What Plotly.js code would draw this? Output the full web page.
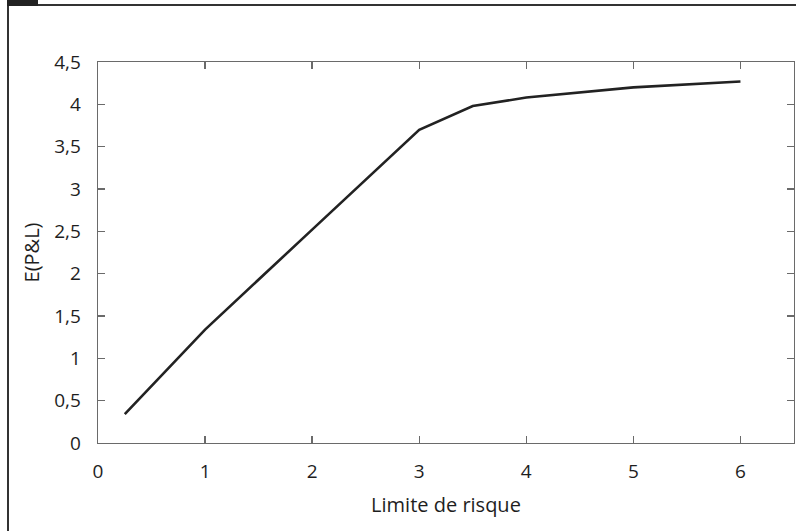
<!DOCTYPE html>
<html>
<head>
<meta charset="utf-8">
<script src="https://cdn.plot.ly/plotly-3.0.1.min.js"></script>
<style>
  html, body { margin: 0; padding: 0; background: #fff; }
  #wrap { position: relative; width: 798px; height: 531px; overflow: hidden; }
  #chart { position: absolute; left: 0; top: 0; width: 798px; height: 531px; }
  .frame-top { position: absolute; left: 7px; top: 4px; width: 789px; height: 2px; background: #333; }
  .frame-left { position: absolute; left: 7px; top: 4px; width: 1.5px; height: 527px; background: #333; }
  .tab { position: absolute; left: 7px; top: 0; width: 31px; height: 6px; background: #222; }
</style>
</head>
<body>
<div id="wrap">
  <div id="chart"></div>
  <div class="frame-top"></div>
  <div class="frame-left"></div>
  <div class="tab"></div>
</div>
<script>
// Data
const riskLimit = [0.25, 1, 2, 3, 3.5, 4, 5, 6];
const expectedPnL = [0.34, 1.34, 2.52, 3.70, 3.98, 4.08, 4.20, 4.27];

const xTickVals = [0, 1, 2, 3, 4, 5, 6];
const xTickText = ['0', '1', '2', '3', '4', '5', '6'];
const yTickVals = [0, 0.5, 1, 1.5, 2, 2.5, 3, 3.5, 4, 4.5];
const yTickText = ['0', '0,5', '1', '1,5', '2', '2,5', '3', '3,5', '4', '4,5'];

const xTitle = 'Limite de risque';
const yTitle = 'E(P&L)';

const FONT = '"Open Sans", Lato, "DejaVu Sans", sans-serif';

const trace = {
  x: riskLimit,
  y: expectedPnL,
  type: 'scatter',
  mode: 'lines',
  line: { color: '#222222', width: 2.6 },
  hoverinfo: 'none'
};

const axisCommon = {
  showgrid: false,
  zeroline: false,
  showline: true,
  linecolor: '#6a6a6a',
  linewidth: 1.3,
  mirror: 'allticks',
  ticks: 'inside',
  ticklen: 7,
  tickwidth: 1.3,
  tickcolor: '#6a6a6a',
  tickfont: { family: FONT, size: 19, color: '#1e1e1e' },
  fixedrange: true
};

const layout = {
  width: 798,
  height: 531,
  margin: { l: 97.5, r: 4, t: 62, b: 88, pad: 0 },
  paper_bgcolor: '#ffffff',
  plot_bgcolor: '#ffffff',
  showlegend: false,
  font: { family: FONT, color: '#1e1e1e' },
  xaxis: Object.assign({}, axisCommon, {
    range: [0, 6.5],
    tickmode: 'array',
    tickvals: xTickVals,
    ticktext: xTickText,
    ticklabelstandoff: 11,
    title: { text: xTitle, font: { family: FONT, size: 20, color: '#1e1e1e' }, standoff: 15 }
  }),
  yaxis: Object.assign({}, axisCommon, {
    range: [0, 4.5],
    tickmode: 'array',
    tickvals: yTickVals,
    ticktext: yTickText,
    ticklabelstandoff: 12,
    title: { text: yTitle, font: { family: FONT, size: 20, color: '#1e1e1e' }, standoff: 9 }
  })
};

Plotly.newPlot('chart', [trace], layout, { staticPlot: true, displayModeBar: false });
</script>
</body>
</html>
